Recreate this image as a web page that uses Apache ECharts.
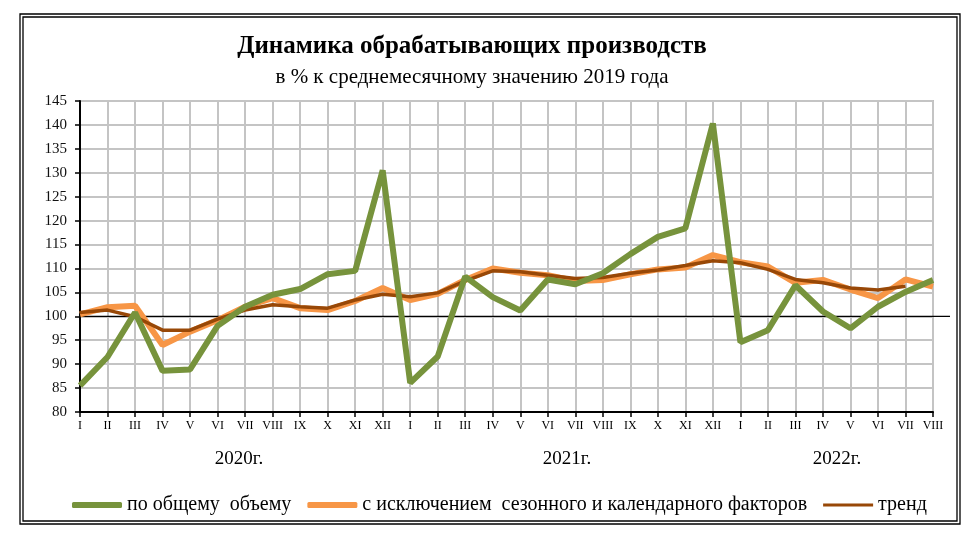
<!DOCTYPE html>
<html lang="ru">
<head>
    <meta charset="UTF-8">
    <title>Динамика обрабатывающих производств</title>
    <script src="https://cdn.jsdelivr.net/npm/echarts@6/dist/echarts.min.js"></script>
    <style>
        html, body { margin: 0; padding: 0; background: #fff; }
        #main { width: 974px; height: 533px; }
    </style>
</head>
<body>
    <div id="main"></div>
    <script>
        // months and years along the x axis
        var years = ['2020', '2021', '2022'];
        var monthsPerYear = [12, 12, 8];
        var months = ['I', 'II', 'III', 'IV', 'V', 'VI', 'VII', 'VIII', 'IX', 'X', 'XI', 'XII'];
        var yearLabels = ['2020г.', '2021г.', '2022г.'];

        // по общему объему
        var totalVolume = [
            85.5, 91.5, 100.8, 88.6, 88.9, 98.0, 102.0, 104.5, 105.7, 108.8, 109.5, 130.5,
            86.1, 91.6, 108.3, 104.0, 101.2, 107.7, 106.7, 109.0, 113.0, 116.6, 118.4, 140.3,
            94.6, 97.1, 106.5, 101.0, 97.5, 102.0, 105.1, 107.6
        ];
        // с исключением сезонного и календарного факторов
        var seasonAdjusted = [
            100.4, 101.9, 102.2, 94.0, 96.8, 99.2, 102.0, 103.8, 101.7, 101.3, 103.2, 105.9,
            103.4, 104.7, 107.6, 110.0, 109.1, 108.6, 107.4, 107.6, 108.8, 109.8, 110.2, 112.8,
            111.3, 110.4, 107.0, 107.6, 105.6, 103.8, 107.7, 106.2
        ];
        // тренд
        var trend = [
            100.8, 101.3, 99.9, 97.1, 97.1, 99.4, 101.3, 102.4, 102.0, 101.7, 103.4, 104.6,
            104.1, 104.9, 107.4, 109.5, 109.3, 108.6, 107.9, 108.1, 109.0, 109.7, 110.6, 111.6,
            111.2, 109.8, 107.7, 107.0, 105.9, 105.5, 106.3, null
        ];

        var yMin = 80, yMax = 145, yStep = 5, baseLevel = 100;

        var categories = [];
        years.forEach(function (y, i) {
            for (var m = 0; m < monthsPerYear[i]; m++) categories.push(y + '-' + months[m]);
        });

        var serif = '"Liberation Serif", "Times New Roman", serif';
        var nameTotal = 'по общему  объему';
        var nameAdj = 'с исключением  сезонного и календарного факторов';
        var nameTrend = 'тренд';

        var chart = echarts.init(document.getElementById('main'));

        chart.setOption({
            animation: false,
            grid: {
                left: 80, right: 41, top: 101, bottom: 121,
                show: true, borderColor: '#8c8c8c', borderWidth: 1.5
            },
            legend: {
                data: [
                    { name: nameTotal, icon: 'roundRect' },
                    { name: nameAdj, icon: 'roundRect' },
                    { name: nameTrend, icon: 'path://M0,0h50v3h-50z' }
                ],
                left: 67, top: 489,
                itemWidth: 50, itemHeight: 6, itemGap: 16,
                textStyle: { fontFamily: serif, fontSize: 20, color: '#000', lineHeight: 22 }
            },
            xAxis: {
                type: 'category',
                data: categories,
                boundaryGap: false,
                axisLine: { lineStyle: { color: '#000', width: 2 } },
                axisTick: { show: true, length: 5, interval: 0, lineStyle: { color: '#000', width: 1.5 } },
                axisLabel: {
                    interval: 0, margin: 8,
                    fontFamily: serif, fontSize: 12, color: '#000',
                    formatter: function (v) { return v.split('-')[1]; }
                },
                splitLine: { show: true, interval: 0, lineStyle: { color: '#c4c4c4', width: 2 } }
            },
            yAxis: {
                type: 'value',
                min: yMin, max: yMax, interval: yStep,
                axisLine: { show: true, lineStyle: { color: '#000', width: 2 } },
                axisTick: { show: true, length: 5, lineStyle: { color: '#000', width: 1.5 } },
                axisLabel: { margin: 13, fontFamily: serif, fontSize: 15, color: '#111' },
                splitLine: { lineStyle: { color: '#c4c4c4', width: 2 } }
            },
            series: [
                {
                    name: nameAdj,
                    type: 'line', data: seasonAdjusted, symbol: 'none',
                    lineStyle: { color: '#f79646', width: 6 }, itemStyle: { color: '#f79646' }
                },
                {
                    name: nameTrend,
                    type: 'line', data: trend, symbol: 'none',
                    lineStyle: { color: '#984807', width: 3.5 }, itemStyle: { color: '#984807' }
                },
                {
                    name: nameTotal,
                    type: 'line', data: totalVolume, symbol: 'none',
                    lineStyle: { color: '#77933c', width: 6 }, itemStyle: { color: '#77933c' }
                }
            ]
        });

        // frame, title, year captions and the 100 % line
        var y100 = chart.convertToPixel({ yAxisIndex: 0 }, baseLevel);
        var yearX = [239, 567, 837];

        chart.setOption({
            graphic: [
                { type: 'rect', shape: { x: 20, y: 14, width: 940, height: 510 }, style: { fill: null, stroke: '#000', lineWidth: 1.3 } },
                { type: 'rect', shape: { x: 23, y: 17, width: 934, height: 504 }, style: { fill: null, stroke: '#000', lineWidth: 1.3 } },
                { type: 'line', shape: { x1: 80, y1: y100, x2: 950, y2: y100 }, style: { stroke: '#000', lineWidth: 1.2 } },
                {
                    type: 'text', x: 472, y: 47,
                    style: { text: 'Динамика обрабатывающих производств', font: 'bold 25px ' + serif, fill: '#000', align: 'center', verticalAlign: 'middle' }
                },
                {
                    type: 'text', x: 472, y: 77,
                    style: { text: 'в % к среднемесячному значению 2019 года', font: '21px ' + serif, fill: '#000', align: 'center', verticalAlign: 'middle' }
                }
            ].concat(yearLabels.map(function (t, i) {
                return {
                    type: 'text', x: yearX[i], y: 459,
                    style: { text: t, font: '19px ' + serif, fill: '#000', align: 'center', verticalAlign: 'middle' }
                };
            }))
        });
    </script>
</body>
</html>
